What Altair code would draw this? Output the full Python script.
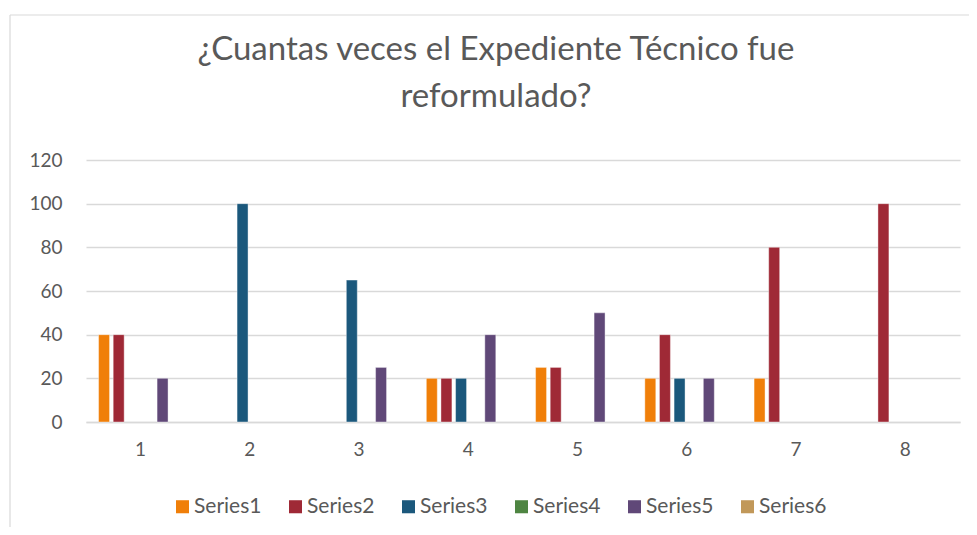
import altair as alt
import pandas as pd

categories = ["1", "2", "3", "4", "5", "6", "7", "8"]
series_names = ["Series1", "Series2", "Series3", "Series4", "Series5", "Series6"]
series1 = [40, 0, 0, 20, 25, 20, 20, 0]
series2 = [40, 0, 0, 20, 25, 40, 80, 100]
series3 = [0, 100, 65, 20, 0, 20, 0, 0]
series4 = [0, 0, 0, 0, 0, 0, 0, 0]
series5 = [20, 0, 25, 40, 50, 20, 0, 0]
series6 = [0, 0, 0, 0, 0, 0, 0, 0]
colors = ["#F07F09", "#9F2936", "#1B587C", "#4E8542", "#604878", "#C19859"]
y_ticks = [0, 20, 40, 60, 80, 100, 120]

rows = []
for name, vals in zip(series_names, [series1, series2, series3, series4, series5, series6]):
    for c, v in zip(categories, vals):
        rows.append({"cat": c, "series": name, "value": v})
df = pd.DataFrame(rows)

FONT = "Lato"
GREY = "#595959"

bars = alt.Chart(df).transform_filter("datum.value > 0").mark_bar(
    stroke="white", strokeWidth=0.8, strokeOpacity=0.5
).encode(
    x=alt.X("cat:N", sort=categories,
            scale=alt.Scale(paddingInner=0, paddingOuter=0),
            axis=alt.Axis(title=None, labelAngle=0, labelFontSize=19, labelColor=GREY,
                          labelFont=FONT, ticks=False, domainColor="#d9d9d9",
                          domainWidth=1.5, labelPadding=18, grid=False)),
    xOffset=alt.XOffset("series:N", sort=series_names,
                        scale=alt.Scale(domain=series_names, paddingInner=0.25, paddingOuter=0.86)),
    y=alt.Y("value:Q", scale=alt.Scale(domain=[0, 120]),
            axis=alt.Axis(title=None, values=y_ticks, labelFontSize=19, labelColor=GREY,
                          labelFont=FONT, ticks=False, domain=False, labelPadding=24,
                          gridColor="#d9d9d9", gridWidth=1.5)),
    color=alt.Color("series:N", sort=series_names,
                    scale=alt.Scale(domain=series_names, range=colors),
                    legend=alt.Legend(title=None, orient="none", direction="horizontal",
                                      legendX=86, legendY=336, columns=6,
                                      symbolType="square", symbolSize=170,
                                      symbolStrokeWidth=0, labelFontSize=21,
                                      labelColor=GREY, labelFont=FONT,
                                      columnPadding=23, labelOffset=1)),
)

border = alt.Chart(pd.DataFrame({"k": [0]})).mark_rule(color="#d9d9d9", strokeWidth=1.2).encode(
    x=alt.value(-76), y=alt.value(-145), y2=alt.value(380)
)
border_top = alt.Chart(pd.DataFrame({"k": [0]})).mark_rule(color="#d9d9d9", strokeWidth=1.2).encode(
    x=alt.value(-76), x2=alt.value(900), y=alt.value(-145)
)

chart = alt.layer(bars, border, border_top).properties(
    width=874, height=262,
    autosize=alt.AutoSizeParams(type="none"),
    padding={"left": 78, "top": 152, "right": 9, "bottom": 105},
    title=alt.Title(["¿Cuantas veces el Expediente Técnico fue", "reformulado?"],
                    fontSize=33, font=FONT, fontWeight="normal", color=GREY,
                    anchor="middle", dx=-27, offset=-100, lineHeight=47),
).configure_view(stroke=None)

chart.save("out.html", embed_options={"renderer": "svg", "actions": False})
